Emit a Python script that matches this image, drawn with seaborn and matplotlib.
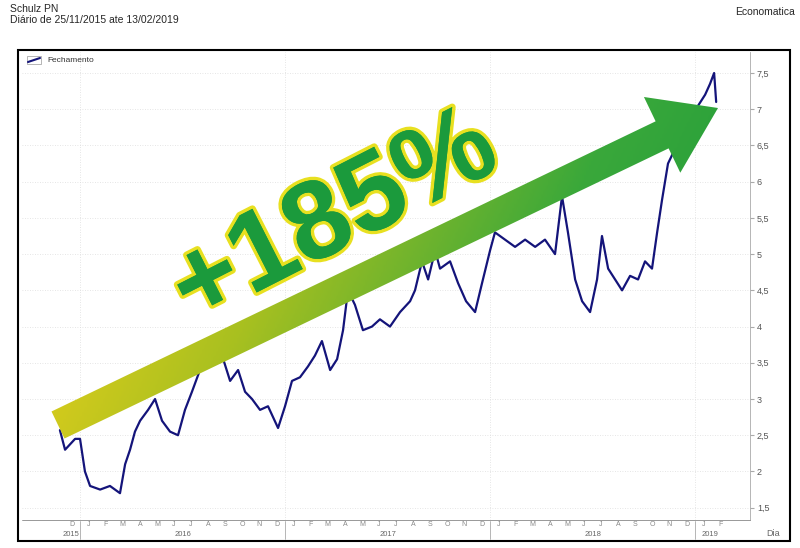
import numpy as np
import pandas as pd
import matplotlib
matplotlib.use('Agg')
import matplotlib.pyplot as plt
import matplotlib.patheffects as pe
from matplotlib.patches import Polygon, Rectangle
from matplotlib.colors import LinearSegmentedColormap
import seaborn as sns

# Data (time as decimal year, closing price)
years = [2015.902, 2015.927, 2015.976, 2016.0, 2016.024, 2016.049, 2016.098, 2016.146,
         2016.195, 2016.220, 2016.244, 2016.268, 2016.293, 2016.332, 2016.366, 2016.400,
         2016.439, 2016.478, 2016.512, 2016.546, 2016.585, 2016.620, 2016.659, 2016.693,
         2016.732, 2016.771, 2016.805, 2016.839, 2016.878, 2016.917, 2016.966, 2017.0,
         2017.034, 2017.073, 2017.112, 2017.146, 2017.180, 2017.220, 2017.254, 2017.283,
         2017.307, 2017.341, 2017.380, 2017.424, 2017.463, 2017.512, 2017.561, 2017.610,
         2017.634, 2017.668, 2017.698, 2017.732, 2017.756, 2017.805, 2017.844, 2017.883,
         2017.927, 2017.961, 2018.0, 2018.024, 2018.073, 2018.122, 2018.171, 2018.220,
         2018.268, 2018.317, 2018.351, 2018.380, 2018.415, 2018.449, 2018.488, 2018.522,
         2018.546, 2018.576, 2018.610, 2018.644, 2018.683, 2018.722, 2018.756, 2018.790,
         2018.815, 2018.839, 2018.868, 2018.902, 2018.937, 2018.976, 2019.015, 2019.049,
         2019.073, 2019.093, 2019.103]
close = [2.57, 2.3, 2.45, 2.45, 2.0, 1.8, 1.75, 1.8, 1.7, 2.1, 2.3, 2.55, 2.7, 2.85, 3.0, 2.7,
         2.55, 2.5, 2.85, 3.1, 3.4, 3.75, 3.55, 3.6, 3.25, 3.4, 3.1, 3.0, 2.85, 2.9, 2.6, 2.9,
         3.25, 3.3, 3.45, 3.6, 3.8, 3.4, 3.55, 3.95, 4.5, 4.3, 3.95, 4.0, 4.1, 4.0, 4.2, 4.35,
         4.5, 4.9, 4.65, 5.05, 4.8, 4.9, 4.6, 4.35, 4.2, 4.6, 5.05, 5.3, 5.2, 5.1, 5.2, 5.1,
         5.2, 5.0, 5.8, 5.3, 4.65, 4.35, 4.2, 4.65, 5.25, 4.8, 4.65, 4.5, 4.7, 4.65, 4.9, 4.8,
         5.3, 5.75, 6.25, 6.45, 6.7, 6.9, 7.05, 7.2, 7.35, 7.5, 7.1]
yticks = [1.5, 2, 2.5, 3, 3.5, 4, 4.5, 5, 5.5, 6, 6.5, 7, 7.5]
ytick_labels = ['1,5', '2', '2,5', '3', '3,5', '4', '4,5', '5', '5,5', '6', '6,5', '7', '7,5']
month_letters = ['J', 'F', 'M', 'A', 'M', 'J', 'J', 'A', 'S', 'O', 'N', 'D']
year_labels = [2015, 2016, 2017, 2018, 2019]

sns.set_style('white')
plt.rcParams['font.family'] = ['Liberation Sans', 'DejaVu Sans']

W, H = 800, 548
fig = plt.figure(figsize=(8, 5.48), dpi=100)
L, R, T, B = 22, 750, 52, 520
ax = fig.add_axes([L / W, 1 - B / H, (R - L) / W, (B - T) / H])

df = pd.DataFrame({'t': years, 'close': close})
sns.lineplot(data=df, x='t', y='close', ax=ax, color='#14147a', lw=1.6)

xmin, xmax = 2015.717, 2019.268
ax.set_xlim(xmin, xmax)
ax.set_ylim(1.33, 7.79)
for s in ax.spines.values():
    s.set_visible(False)
ax.spines['right'].set_visible(True)
ax.spines['right'].set_color('#aaaaaa')
ax.spines['right'].set_linewidth(0.6)
ax.yaxis.tick_right()
ax.set_yticks(yticks)
ax.set_yticklabels(ytick_labels, fontsize=6.5, color='#555555')
ax.tick_params(axis='y', length=3, color='#aaaaaa', pad=2)
ax.set_xticks([])
ax.set_xlabel('')
ax.set_ylabel('')
for y in yticks:
    ax.axhline(y, color='#dddddd', ls=(0, (1, 2)), lw=0.6, zorder=0)
for yr in year_labels[1:]:
    ax.axvline(yr, color='#dddddd', ls=(0, (1, 2)), lw=0.6, zorder=0)

# date label row
def fx(t):
    return (L + (t - xmin) / (xmax - xmin) * (R - L)) / W

fig.add_artist(plt.Line2D([L / W, R / W], [1 - B / H, 1 - B / H], color='#888888', lw=0.6))
start = 2015.917
for yr in year_labels:
    for m in range(12):
        tm = yr + (m + 0.5) / 12
        if tm < start or tm > 2019.15:
            continue
        fig.text(fx(tm), 1 - 525 / H, month_letters[m], fontsize=5, color='#888888',
                 ha='center', va='center')
    lo = max(yr, start)
    hi = min(yr + 1, 2019.15)
    fig.text(fx((lo + hi) / 2), 1 - 535 / H, str(yr), fontsize=5.5, color='#666666',
             ha='center', va='center')
    if yr > 2015:
        fig.add_artist(plt.Line2D([fx(yr), fx(yr)], [1 - 539 / H, 1 - 521 / H],
                                  color='#aaaaaa', lw=0.6))
fig.text(780 / W, 1 - 533 / H, 'Dia', fontsize=6.5, color='#666666', ha='right', va='center')

# outer frame
fig.add_artist(Rectangle((18 / W, 1 - 541 / H), 772 / W, 491 / H, fill=False,
                         ec='black', lw=1.5, transform=fig.transFigure))

# header
fig.text(10 / W, 1 - 9 / H, 'Schulz PN', fontsize=7.5, va='center')
fig.text(10 / W, 1 - 20 / H, 'Diário de 25/11/2015 ate 13/02/2019', fontsize=7.5, va='center')
fig.text(795 / W, 1 - 12 / H, 'Economatica', fontsize=7.5, va='center', ha='right')

# legend
fig.add_artist(plt.Line2D([28 / W, 40 / W], [1 - 62 / H, 1 - 58 / H], color='#14147a', lw=1.5))
fig.add_artist(Rectangle((27 / W, 1 - 64 / H), 14 / W, 8 / H, fill=False, ec='#999999',
                         lw=0.5, transform=fig.transFigure))
fig.text(47 / W, 1 - 60 / H, 'Fechamento', fontsize=6, va='center', color='#333333')

# gradient arrow (built in pixel space, drawn in axes fraction)
p0 = np.array([58.0, 425.0])
p1 = np.array([718.0, 108.0])
d = (p1 - p0) / np.linalg.norm(p1 - p0)
n = np.array([-d[1], d[0]])
hl, sw, hw = 62, 15, 42
pb = p1 - d * hl
pts = [p0 + n * sw, pb + n * sw, pb + n * hw, p1, pb - n * hw, pb - n * sw, p0 - n * sw]
axpts = [((q[0] - L) / (R - L), (B - q[1]) / (B - T)) for q in pts]
poly = Polygon(axpts, closed=True, transform=ax.transAxes, fc='none', ec='none')
ax.add_patch(poly)
gx, gy = np.meshgrid(np.linspace(L, R, 300), np.linspace(T, B, 200))
proj = ((gx - p0[0]) * d[0] + (gy - p0[1]) * d[1]) / np.linalg.norm(p1 - p0)
cmap = LinearSegmentedColormap.from_list('ar', ['#f2d21a', '#a8c020', '#3aa83a', '#1b9a3c'])
im = ax.imshow(np.clip(proj, 0, 1), cmap=cmap, extent=[0, 1, 1, 0], transform=ax.transAxes,
               aspect='auto', zorder=3, interpolation='bilinear')
im.set_clip_path(poly)

ax.text((335 - L) / (R - L), (B - 220) / (B - T), '+185%', transform=ax.transAxes,
        fontsize=80, fontweight='bold', color='#1b9a3c', rotation=27, ha='center',
        va='center', zorder=4,
        path_effects=[pe.withStroke(linewidth=5, foreground='#e8e020'), pe.Normal()])

fig.savefig('out.png', dpi=100)
